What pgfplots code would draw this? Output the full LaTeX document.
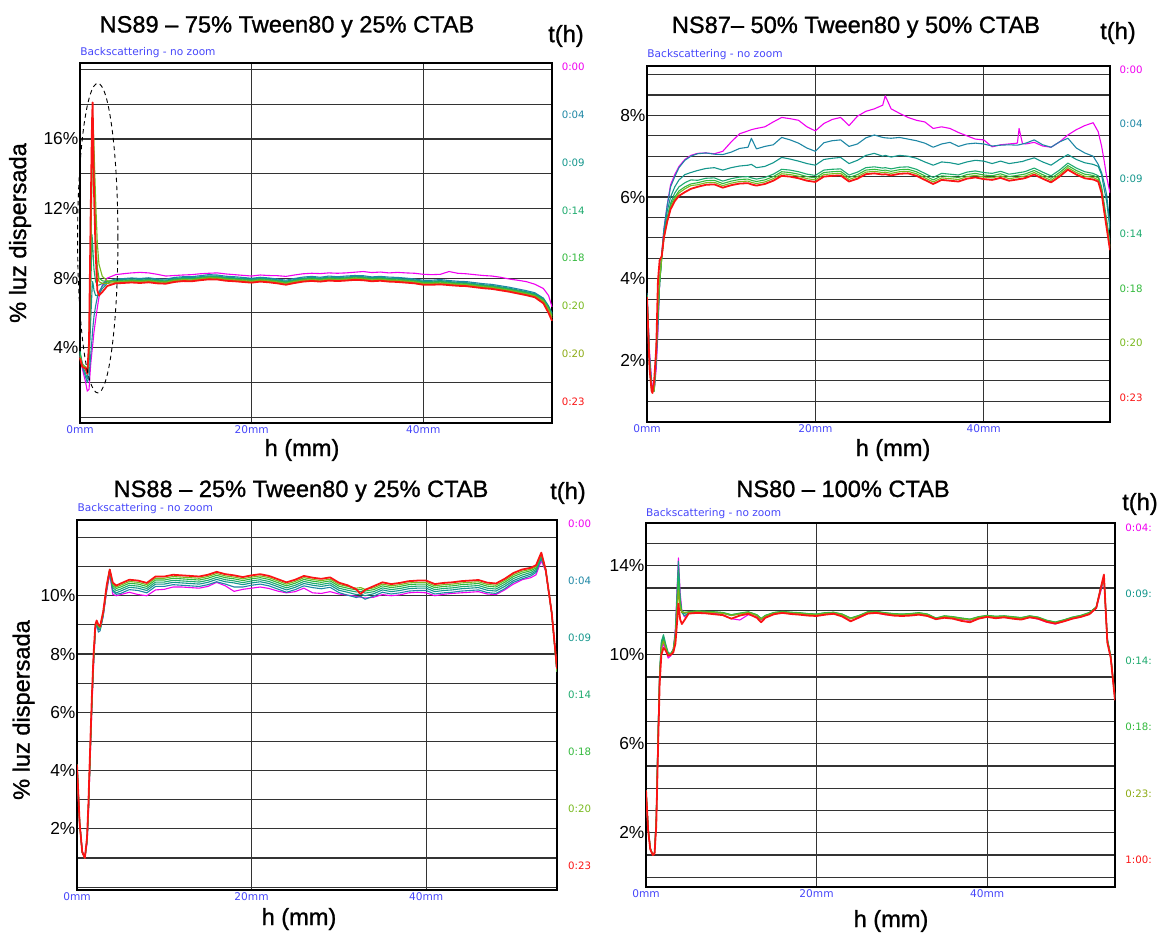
\documentclass[border=0pt]{standalone}
\usepackage{pgfplots}
\usepackage{pgfplotstable}
\pgfplotsset{compat=1.18}
\usepackage{fontspec}
\setmainfont{Liberation Sans}
\newfontfamily\heavy{Liberation Sans}[FakeBold=1.1]
\newfontfamily\dejavu{DejaVu Sans}
\definecolor{cM}{RGB}{240,0,240}
\definecolor{cA}{RGB}{30,135,165}
\definecolor{cB}{RGB}{20,150,140}
\definecolor{cC}{RGB}{30,170,110}
\definecolor{cD}{RGB}{50,185,60}
\definecolor{cE}{RGB}{120,185,30}
\definecolor{cF}{RGB}{140,170,20}
\definecolor{cR}{RGB}{250,20,20}
\definecolor{cBlue}{RGB}{70,70,250}
\newcommand\tf{\heavy\fontsize{11.8}{13}\selectfont}
\newcommand\sbf{\dejavu\fontsize{5.3}{6}\selectfont}
\newcommand\rlf{\dejavu\fontsize{5.1}{6}\selectfont}

\pgfplotstableread{
x m a b c d e f r
0 3.5 3.6 3.7 3.8 3.6 3.5 3.4 3.4
0.27 2.8 2.9 3.0 3.1 3.0 3.0 2.9 2.9
0.66 2.0 2.3 2.5 2.8 2.9 2.9 2.8 2.8
0.85 1.5 2.0 2.2 2.5 2.6 2.6 2.6 2.5
1.05 1.6 2.3 3.0 3.5 3.8 3.8 4.0 4.3
1.24 3.0 3.5 5.5 7.0 9.0 9.0 10.0 11.5
1.4 3.8 4.5 7.3 10.5 14.0 14.5 16.0 17.0
1.47 4.1 5.0 7.8 10.0 15.8 16.3 17.5 18.1
1.55 4.5 5.4 7.6 9.2 16.4 16.8 16.5 15.5
1.63 4.9 5.8 7.3 8.5 14.5 15.5 14.0 13.0
1.82 5.6 6.4 7.0 7.8 10.5 12.5 10.0 9.5
2.02 6.3 6.9 7.0 7.6 8.6 10.0 8.3 7.3
2.21 6.9 7.2 7.1 7.6 8.0 8.8 7.8 7.0
2.6 7.6 7.55 7.4 7.7 7.85 8.1 7.7 7.2
3.18 8.0 7.8 7.7 7.8 7.8 7.85 7.7 7.55
4.15 8.2 7.95 7.9 7.86 7.82 7.78 7.74 7.7
5 8.25 7.97 7.93 7.88 7.84 7.80 7.76 7.72
6 8.30 8.01 7.95 7.91 7.87 7.83 7.79 7.75
7 8.33 7.98 7.93 7.88 7.85 7.80 7.76 7.72
8 8.30 8.02 7.96 7.92 7.88 7.84 7.80 7.76
9 8.22 7.95 7.91 7.86 7.82 7.78 7.74 7.70
10 8.12 7.94 7.88 7.84 7.80 7.76 7.72 7.68
11 8.15 8.04 7.98 7.94 7.90 7.86 7.82 7.78
12 8.18 8.08 8.03 7.99 7.95 7.91 7.87 7.83
13 8.20 8.08 8.02 7.98 7.94 7.90 7.86 7.82
14 8.25 8.14 8.08 8.04 8.00 7.96 7.92 7.88
15 8.28 8.20 8.13 8.09 8.05 8.01 7.97 7.93
16 8.30 8.18 8.12 8.08 8.04 8.00 7.96 7.92
17 8.24 8.11 8.05 8.01 7.97 7.93 7.89 7.85
18 8.20 8.08 8.02 7.98 7.94 7.90 7.86 7.82
19 8.16 8.04 7.98 7.94 7.90 7.86 7.82 7.78
20 8.12 7.99 7.94 7.90 7.86 7.82 7.78 7.74
21 8.18 8.05 8.00 7.96 7.92 7.88 7.84 7.80
22 8.15 8.01 7.96 7.92 7.88 7.84 7.80 7.76
23 8.14 7.95 7.90 7.86 7.82 7.78 7.74 7.70
24 8.10 7.88 7.82 7.78 7.74 7.70 7.66 7.62
25 8.18 7.98 7.92 7.88 7.84 7.80 7.76 7.72
26 8.25 8.06 8.00 7.96 7.92 7.88 7.84 7.80
27 8.28 8.10 8.04 8.00 7.96 7.92 7.88 7.84
28 8.26 8.05 8.00 7.96 7.92 7.88 7.84 7.80
29 8.30 8.12 8.06 8.02 7.98 7.94 7.90 7.86
30 8.28 8.08 8.03 7.99 7.95 7.91 7.87 7.83
31 8.30 8.12 8.06 8.02 7.98 7.94 7.90 7.86
32 8.34 8.15 8.10 8.06 8.02 7.98 7.94 7.90
33 8.38 8.14 8.08 8.04 8.00 7.96 7.92 7.88
34 8.32 8.07 8.02 7.98 7.94 7.90 7.86 7.82
35 8.35 8.10 8.05 8.01 7.97 7.93 7.89 7.85
36 8.30 8.06 8.00 7.96 7.92 7.88 7.84 7.80
37 8.33 8.04 7.98 7.94 7.90 7.86 7.82 7.78
38 8.30 8.00 7.94 7.90 7.86 7.82 7.78 7.74
39 8.28 7.95 7.90 7.86 7.82 7.78 7.74 7.70
40 8.22 7.88 7.82 7.78 7.74 7.70 7.66 7.62
41 8.20 7.88 7.82 7.78 7.74 7.70 7.66 7.62
42 8.22 7.92 7.86 7.81 7.77 7.72 7.68 7.64
43 8.38 7.86 7.80 7.76 7.72 7.68 7.64 7.60
44 8.28 7.82 7.76 7.72 7.68 7.64 7.60 7.56
45 8.25 7.80 7.74 7.70 7.66 7.62 7.58 7.54
46 8.20 7.74 7.68 7.64 7.60 7.56 7.52 7.48
47 8.15 7.68 7.62 7.58 7.54 7.50 7.46 7.42
48 8.12 7.64 7.58 7.54 7.50 7.46 7.42 7.38
49 8.05 7.56 7.50 7.46 7.42 7.38 7.34 7.30
50 7.95 7.48 7.42 7.38 7.34 7.30 7.26 7.22
51 7.88 7.38 7.32 7.28 7.24 7.20 7.16 7.12
52 7.80 7.28 7.22 7.18 7.14 7.10 7.06 7.02
53 7.65 7.16 7.10 7.06 7.02 6.98 6.94 6.90
54 7.40 6.85 6.82 6.77 6.72 6.68 6.62 6.55
54.6 7.00 6.40 6.35 6.30 6.25 6.20 6.15 6.00
55 6.35 6.00 5.95 5.90 5.85 5.80 5.70 5.55
}\tA

\pgfplotstableread{
x m a b c d e r
0 3.6 3.65 3.6 3.6 3.6 3.55 3.55
0.3 2.2 2.1 2.0 2.0 1.9 1.9 1.8
0.55 1.5 1.4 1.35 1.3 1.3 1.25 1.25
0.65 1.35 1.3 1.28 1.25 1.25 1.22 1.2
0.85 1.25 1.25 1.25 1.25 1.25 1.25 1.5
1.1 1.8 2.0 2.1 2.2 2.3 2.3 2.3
1.3 2.7 2.9 3.0 3.1 3.2 3.3 3.95
1.5 3.9 3.9 3.9 3.9 3.9 4.0 4.45
1.75 4.6 4.6 4.55 4.5 4.5 4.5 4.55
2.0 5.2 5.2 5.1 5.0 5.0 5.0 5.0
2.4 5.8 5.8 5.65 5.5 5.45 5.4 5.4
2.8 6.3 6.25 6.0 5.85 5.8 5.75 5.7
3.3 6.55 6.5 6.25 6.1 6.0 5.95 5.9
3.8 6.75 6.72 6.42 6.25 6.15 6.1 6.03
4.5 6.92 6.9 6.55 6.35 6.25 6.2 6.12
5.2 7.02 7.0 6.6 6.42 6.32 6.28 6.2
6 7.07 7.06 6.65 6.41 6.35 6.30 6.25
7 7.08 7.08 6.70 6.46 6.40 6.35 6.30
8 7.06 7.05 6.72 6.47 6.41 6.36 6.31
9 7.12 7.04 6.66 6.39 6.33 6.28 6.23
10 7.35 7.10 6.72 6.45 6.39 6.34 6.29
11 7.55 7.19 6.76 6.49 6.43 6.38 6.33
12 7.62 7.22 6.78 6.50 6.44 6.39 6.34
12.4 7.65 7.44 6.80 6.47 6.41 6.36 6.31
13 7.68 7.18 6.72 6.44 6.38 6.33 6.28
14 7.72 7.24 6.75 6.48 6.42 6.37 6.32
15 7.84 7.28 6.84 6.56 6.50 6.45 6.40
16 7.95 7.46 6.97 6.68 6.62 6.57 6.52
17 7.92 7.40 6.93 6.66 6.60 6.55 6.50
18 7.88 7.32 6.88 6.62 6.56 6.51 6.46
19 7.72 7.20 6.82 6.56 6.50 6.45 6.40
20 7.62 7.12 6.78 6.53 6.47 6.42 6.37
21 7.80 7.33 6.92 6.66 6.60 6.55 6.50
22 7.90 7.38 6.95 6.68 6.62 6.57 6.52
23 7.95 7.40 6.97 6.69 6.63 6.58 6.53
24 7.75 7.24 6.82 6.54 6.48 6.43 6.38
25 7.98 7.30 6.90 6.61 6.55 6.50 6.45
26 8.10 7.45 7.02 6.72 6.66 6.61 6.56
27 8.16 7.52 7.07 6.74 6.68 6.63 6.58
28 8.25 7.46 7.00 6.71 6.65 6.60 6.55
28.3 8.48 7.45 7.02 6.72 6.66 6.61 6.56
29 8.16 7.44 6.98 6.69 6.63 6.58 6.53
30 8.05 7.46 7.02 6.73 6.67 6.62 6.57
31 7.95 7.42 7.00 6.74 6.68 6.63 6.58
32 7.88 7.38 6.95 6.68 6.62 6.57 6.52
33 7.84 7.32 6.86 6.58 6.52 6.47 6.42
34 7.68 7.22 6.78 6.48 6.42 6.37 6.32
35 7.72 7.30 6.86 6.58 6.52 6.47 6.42
36 7.68 7.34 6.84 6.56 6.50 6.45 6.40
37 7.58 7.24 6.80 6.54 6.48 6.43 6.38
38 7.50 7.30 6.86 6.61 6.55 6.50 6.45
39 7.42 7.32 6.90 6.64 6.58 6.53 6.48
40 7.40 7.30 6.88 6.60 6.54 6.49 6.44
41 7.23 7.25 6.82 6.58 6.52 6.47 6.42
42 7.28 7.27 6.88 6.63 6.57 6.52 6.47
43 7.30 7.28 6.82 6.56 6.50 6.45 6.40
44 7.32 7.27 6.85 6.59 6.53 6.48 6.43
44.2 7.68 7.28 6.86 6.60 6.54 6.49 6.44
44.6 7.31 7.30 6.87 6.61 6.55 6.50 6.45
45 7.30 7.32 6.90 6.63 6.57 6.52 6.47
46 7.34 7.40 6.96 6.71 6.65 6.60 6.55
47 7.25 7.28 6.86 6.61 6.55 6.50 6.45
48 7.22 7.22 6.78 6.52 6.46 6.41 6.36
49 7.35 7.35 6.92 6.66 6.60 6.55 6.50
50 7.52 7.44 7.04 6.83 6.77 6.72 6.67
51 7.65 7.20 6.92 6.71 6.65 6.60 6.55
52 7.75 7.08 6.84 6.62 6.56 6.51 6.46
53 7.82 7.00 6.80 6.58 6.53 6.48 6.43
53.6 7.60 6.80 6.75 6.52 6.47 6.42 6.38
54 7.25 6.60 6.55 6.25 6.20 6.15 6.10
54.3 6.90 6.35 6.20 5.85 5.78 5.72 5.66
54.6 6.50 6.06 5.90 5.45 5.35 5.30 5.25
55 6.10 5.30 5.20 4.90 4.80 4.75 4.70
}\tB

\pgfplotstableread{
x m a b c d e r
0 4.0 4.2 4.2 4.2 4.2 4.2 4.2
0.3 2.2 2.2 2.2 2.2 2.2 2.2 2.2
0.6 1.25 1.2 1.2 1.2 1.2 1.2 1.2
0.9 1.0 1.0 1.0 1.0 1.0 1.0 1.0
1.15 1.5 1.6 1.6 1.6 1.6 1.6 1.7
1.3 2.4 2.6 2.6 2.6 2.6 2.6 2.8
1.5 4.3 4.5 4.5 4.5 4.5 4.5 4.7
1.7 6.1 6.3 6.3 6.3 6.3 6.3 6.5
1.9 7.6 7.8 7.8 7.8 7.8 7.8 8.0
2.1 8.8 8.9 8.9 8.9 8.9 8.9 9.0
2.25 9.0 9.05 9.1 9.1 9.1 9.1 9.15
2.45 8.85 8.75 8.85 8.9 8.95 8.95 9.0
2.65 8.85 8.8 8.85 8.9 8.9 8.9 8.95
3.0 9.3 9.3 9.35 9.4 9.4 9.4 9.45
3.4 10.15 10.2 10.25 10.3 10.3 10.3 10.35
3.75 10.75 10.8 10.85 10.9 10.9 10.9 10.9
4.1 10.05 10.15 10.2 10.28 10.35 10.4 10.45
4.5 10.0 10.05 10.1 10.18 10.25 10.3 10.35
5 10.04 10.08 10.16 10.23 10.30 10.36 10.42
6 10.12 10.21 10.29 10.36 10.43 10.49 10.55
7 10.04 10.18 10.26 10.33 10.40 10.46 10.52
8 10.00 10.10 10.18 10.25 10.32 10.38 10.44
9 10.20 10.32 10.40 10.47 10.54 10.60 10.66
10 10.22 10.32 10.40 10.47 10.54 10.60 10.66
11 10.30 10.38 10.46 10.53 10.60 10.66 10.72
12 10.30 10.36 10.44 10.51 10.58 10.64 10.70
13 10.28 10.34 10.42 10.49 10.56 10.62 10.68
14 10.26 10.32 10.40 10.47 10.54 10.60 10.66
15 10.32 10.38 10.46 10.53 10.60 10.66 10.72
16 10.46 10.48 10.56 10.63 10.70 10.76 10.82
17 10.34 10.40 10.48 10.55 10.62 10.68 10.74
18 10.15 10.30 10.44 10.51 10.58 10.64 10.70
19 10.22 10.30 10.38 10.45 10.52 10.58 10.64
20 10.26 10.36 10.44 10.51 10.58 10.64 10.70
21 10.30 10.40 10.48 10.55 10.62 10.68 10.74
22 10.25 10.34 10.42 10.49 10.56 10.62 10.68
23 10.16 10.23 10.31 10.38 10.45 10.51 10.57
24 10.10 10.12 10.20 10.27 10.34 10.40 10.46
25 10.14 10.21 10.29 10.36 10.43 10.49 10.55
26 10.26 10.34 10.42 10.49 10.56 10.62 10.68
27 10.10 10.28 10.36 10.43 10.50 10.56 10.62
28 10.08 10.24 10.32 10.39 10.46 10.52 10.58
29 10.14 10.29 10.37 10.44 10.51 10.57 10.63
30 10.06 10.11 10.19 10.26 10.33 10.39 10.45
31 10.02 10.02 10.12 10.19 10.26 10.32 10.36
32 9.98 9.94 10.04 10.13 10.20 10.26 10.22
32.5 9.95 9.98 10.06 10.15 10.22 10.28 10.06
33 9.92 9.88 10.00 10.09 10.16 10.22 10.20
34 9.95 9.99 10.07 10.14 10.21 10.27 10.33
35 10.04 10.12 10.20 10.27 10.34 10.40 10.46
36 10.00 10.06 10.14 10.21 10.28 10.34 10.40
37 10.03 10.10 10.18 10.25 10.32 10.38 10.44
38 10.10 10.16 10.24 10.31 10.38 10.44 10.50
39 10.12 10.18 10.26 10.33 10.40 10.46 10.52
40 10.10 10.18 10.26 10.33 10.40 10.46 10.52
41 10.00 10.06 10.14 10.21 10.28 10.34 10.40
42 10.05 10.10 10.18 10.25 10.32 10.38 10.44
43 10.08 10.12 10.20 10.27 10.34 10.40 10.46
44 10.10 10.16 10.24 10.31 10.38 10.44 10.50
45 10.12 10.18 10.26 10.33 10.40 10.46 10.52
46 10.14 10.20 10.28 10.35 10.42 10.48 10.54
47 10.06 10.11 10.19 10.26 10.33 10.39 10.45
48 10.04 10.08 10.16 10.23 10.30 10.36 10.42
49 10.20 10.24 10.32 10.39 10.46 10.52 10.58
50 10.40 10.46 10.52 10.59 10.66 10.72 10.78
51 10.55 10.58 10.64 10.71 10.78 10.84 10.90
52 10.62 10.68 10.74 10.80 10.86 10.91 10.96
52.6 10.72 10.80 10.85 10.90 10.95 11.00 11.05
53.2 11.20 11.28 11.33 11.38 11.42 11.45 11.48
53.7 10.85 10.88 10.88 10.90 10.90 10.90 10.90
54.4 9.40 9.40 9.40 9.40 9.40 9.40 9.40
55 7.40 7.40 7.40 7.40 7.40 7.40 7.50
}\tC

\pgfplotstableread{
x m a b c d r
0 3.8 3.9 3.9 3.9 3.9 3.9
0.25 2.2 2.2 2.2 2.2 2.2 2.1
0.5 1.3 1.3 1.3 1.3 1.3 1.25
0.8 1.0 1.0 1.0 1.0 1.0 1.0
1.0 1.1 1.1 1.1 1.1 1.1 1.05
1.2 2.5 2.6 2.6 2.6 2.5 2.3
1.4 6.0 6.2 6.2 6.1 6.0 5.6
1.6 9.0 9.2 9.2 9.1 9.0 8.7
1.8 10.2 10.5 10.6 10.4 10.3 10.0
2.05 10.5 10.8 10.9 10.7 10.6 10.3
2.3 10.2 10.4 10.5 10.4 10.3 10.2
2.6 9.85 10.0 10.1 10.05 10.0 9.95
2.9 9.95 10.0 10.05 10.05 10.0 10.0
3.2 10.2 10.25 10.25 10.2 10.2 10.1
3.45 11.2 11.0 11.0 10.9 10.8 10.5
3.65 13.0 12.8 12.6 12.3 12.0 11.5
3.8 14.35 14.2 13.8 13.3 12.9 12.3
4.0 12.8 12.6 12.4 12.3 12.1 11.6
4.2 12.0 11.9 11.9 11.95 11.9 11.38
4.5 11.7 11.75 11.85 11.9 11.9 11.55
5.0 11.88 11.88 11.92 11.93 11.9 11.85
6 11.90 11.94 11.96 11.97 11.93 11.88
7 11.92 11.92 11.94 11.95 11.91 11.86
8 11.86 11.90 11.92 11.93 11.89 11.82
9 11.80 11.87 11.89 11.90 11.86 11.78
10 11.62 11.77 11.79 11.80 11.76 11.62
11 11.56 11.84 11.86 11.87 11.83 11.76
12 11.80 11.90 11.92 11.93 11.89 11.84
13 11.70 11.77 11.79 11.80 11.76 11.66
13.5 11.56 11.60 11.62 11.63 11.59 11.46
14 11.68 11.74 11.76 11.77 11.73 11.66
15 11.84 11.87 11.89 11.90 11.86 11.82
16 11.88 11.92 11.94 11.95 11.91 11.88
17 11.86 11.88 11.90 11.91 11.87 11.83
18 11.82 11.86 11.88 11.89 11.85 11.80
19 11.80 11.82 11.84 11.85 11.81 11.76
20 11.76 11.80 11.82 11.83 11.79 11.74
21 11.84 11.86 11.88 11.89 11.85 11.80
22 11.86 11.88 11.90 11.91 11.87 11.84
23 11.76 11.80 11.82 11.83 11.79 11.72
24 11.52 11.62 11.64 11.65 11.61 11.50
25 11.66 11.74 11.76 11.77 11.73 11.68
26 11.86 11.90 11.92 11.93 11.89 11.85
27 11.90 11.92 11.94 11.95 11.91 11.88
28 11.80 11.86 11.88 11.89 11.85 11.82
29 11.78 11.82 11.84 11.85 11.81 11.76
30 11.76 11.80 11.82 11.83 11.79 11.74
31 11.80 11.82 11.84 11.85 11.81 11.76
32 11.84 11.86 11.88 11.89 11.85 11.80
33 11.76 11.80 11.82 11.83 11.79 11.74
34 11.62 11.58 11.64 11.65 11.61 11.60
35 11.68 11.72 11.74 11.75 11.71 11.66
36 11.64 11.68 11.70 11.71 11.67 11.62
37 11.58 11.62 11.64 11.65 11.61 11.52
38 11.55 11.57 11.59 11.60 11.56 11.46
39 11.64 11.68 11.70 11.71 11.67 11.62
40 11.72 11.74 11.76 11.77 11.73 11.70
41 11.66 11.70 11.72 11.73 11.69 11.64
42 11.68 11.72 11.74 11.75 11.71 11.68
43 11.64 11.68 11.70 11.71 11.67 11.62
44 11.60 11.64 11.66 11.67 11.63 11.58
45 11.68 11.72 11.74 11.75 11.71 11.68
46 11.60 11.66 11.68 11.69 11.65 11.62
47 11.46 11.52 11.54 11.55 11.51 11.48
48 11.38 11.44 11.46 11.47 11.43 11.40
49 11.50 11.54 11.56 11.57 11.53 11.50
50 11.62 11.66 11.68 11.69 11.65 11.62
51 11.70 11.74 11.76 11.77 11.73 11.70
52 11.84 11.87 11.89 11.90 11.86 11.82
52.8 12.08 12.12 12.14 12.15 12.11 12.10
53.3 12.8 12.9 12.95 12.95 12.9 12.95
53.7 13.4 13.5 13.55 13.5 13.45 13.6
54.1 10.7 10.65 10.7 10.7 10.6 10.55
54.5 9.9 9.9 9.95 9.95 9.9 9.85
55 8.0 8.05 8.1 8.05 8.0 7.95
}\tD

\pgfplotsset{panel/.style={
  scale only axis, anchor=south west, xmin=0, xmax=55,
  xtick={0,20,40}, xticklabels={0mm,20mm,40mm},
  grid=major, major grid style={black!80, line width=0.55pt},
  major tick length=0pt, axis line style={line width=0.9pt},
  /pgf/number format/assume math mode=true,
  xticklabel style={font=\sbf, text=cBlue, inner sep=0pt, yshift=-1.2pt},
  yticklabel style={font=\fontsize{8.7}{10}\selectfont, inner sep=0pt, xshift=-0.6pt},
  every axis plot/.append style={line width=0.55pt, line join=round},
}}

\begin{document}
\begin{tikzpicture}
\path[use as bounding box] (0,0) rectangle (583.5pt,-467.5pt);

% Panel 1
\begin{axis}[panel, at={(40pt,-211.5pt)}, width=236pt, height=180pt,
  ymin=-0.33, ymax=20.37, clip=false,
  ytick={0,2,4,6,8,10,12,14,16,18,20},
  yticklabels={,,4\%,,8\%,,12\%,,16\%,,}]
\addplot[cM] table[x=x,y=m]{\tA};
\addplot[cA] table[x=x,y=a]{\tA};
\addplot[cB] table[x=x,y=b]{\tA};
\addplot[cC] table[x=x,y=c]{\tA};
\addplot[cD] table[x=x,y=d]{\tA};
\addplot[cE] table[x=x,y=e]{\tA};
\addplot[cF] table[x=x,y=f]{\tA};
\addplot[cR, line width=0.9pt] table[x=x,y=r]{\tA};
\draw[black, line width=0.45pt, dash pattern=on 2.2pt off 1.8pt] (axis cs:2.07,10.3) ellipse [x radius=2.35, y radius=8.9];
\end{axis}

% Panel 2
\begin{axis}[panel, at={(323.5pt,-211pt)}, width=231.5pt, height=178pt,
  ymin=0.49, ymax=9.21,
  ytick={1,1.5,2,2.5,3,3.5,4,4.5,5,5.5,6,6.5,7,7.5,8,8.5,9},
  yticklabels={,,2\%,,,,4\%,,,,6\%,,,,8\%,,}]
\addplot[cM] table[x=x,y=m]{\tB};
\addplot[cA] table[x=x,y=a]{\tB};
\addplot[cB] table[x=x,y=b]{\tB};
\addplot[cC] table[x=x,y=c]{\tB};
\addplot[cD] table[x=x,y=d]{\tB};
\addplot[cE] table[x=x,y=e]{\tB};
\addplot[cR, line width=0.9pt] table[x=x,y=r]{\tB};
\end{axis}

% Panel 3
\begin{axis}[panel, at={(38.5pt,-445pt)}, width=240pt, height=185pt,
  ymin=-0.1, ymax=12.6,
  ytick={0,1,2,3,4,5,6,7,8,9,10,11,12},
  yticklabels={,,2\%,,4\%,,6\%,,8\%,,10\%,,}]
\addplot[cM] table[x=x,y=m]{\tC};
\addplot[cA] table[x=x,y=a]{\tC};
\addplot[cB] table[x=x,y=b]{\tC};
\addplot[cC] table[x=x,y=c]{\tC};
\addplot[cD] table[x=x,y=d]{\tC};
\addplot[cE] table[x=x,y=e]{\tC};
\addplot[cR, line width=0.9pt] table[x=x,y=r]{\tC};
\end{axis}

% Panel 4
\begin{axis}[panel, at={(323pt,-443.5pt)}, width=234.5pt, height=182pt,
  ymin=-0.44, ymax=15.92,
  ytick={0,1,2,3,4,5,6,7,8,9,10,11,12,13,14,15},
  yticklabels={,,2\%,,,,6\%,,,,10\%,,,,14\%,}]
\addplot[cM] table[x=x,y=m]{\tD};
\addplot[cB] table[x=x,y=a]{\tD};
\addplot[cC] table[x=x,y=b]{\tD};
\addplot[cD] table[x=x,y=c]{\tD};
\addplot[cF] table[x=x,y=d]{\tD};
\addplot[cR, line width=0.9pt] table[x=x,y=r]{\tD};
\end{axis}

\begin{scope}[x=0.5pt,y=-0.5pt]
% titles
\node[anchor=base, font=\tf] at (287,32.5) {NS89 – 75\% Tween80 y 25\% CTAB};
\node[anchor=base, font=\tf] at (856,33) {NS87– 50\% Tween80 y 50\% CTAB};
\node[anchor=base, font=\tf] at (301,497) {NS88 – 25\% Tween80 y 25\% CTAB};
\node[anchor=base, font=\tf] at (843,497) {NS80 – 100\% CTAB};
% t(h)
\node[font=\tf] at (566,36) {t(h)};
\node[font=\tf] at (1118,33) {t(h)};
\node[font=\tf] at (568,493) {t(h)};
\node[font=\tf] at (1140,504) {t(h)};
% backscattering
\node[anchor=west, inner sep=0pt, font=\sbf, text=cBlue] at (80,52.3) {Backscattering - no zoom};
\node[anchor=west, inner sep=0pt, font=\sbf, text=cBlue] at (647,55) {Backscattering - no zoom};
\node[anchor=west, inner sep=0pt, font=\sbf, text=cBlue] at (77.3,509) {Backscattering - no zoom};
\node[anchor=west, inner sep=0pt, font=\sbf, text=cBlue] at (645.7,513.3) {Backscattering - no zoom};
% axis labels
\node[font=\tf] at (302,450) {h (mm)};
\node[font=\tf] at (893,450) {h (mm)};
\node[font=\tf] at (299,919) {h (mm)};
\node[font=\tf] at (891,921) {h (mm)};
\node[font=\tf, rotate=90] at (20,233) {\% luz dispersada};
\node[font=\tf, rotate=90] at (23.5,710) {\% luz dispersada};
% right labels panel 1
\begin{scope}[every node/.style={anchor=west, inner sep=0pt, font=\rlf}]
\node[text=cM] at (561.4,66.7) {0:00};
\node[text=cA] at (561.4,115) {0:04};
\node[text=cB] at (561.4,163) {0:09};
\node[text=cC] at (561.4,211) {0:14};
\node[text=cD] at (561.4,258) {0:18};
\node[text=cE] at (561.4,306) {0:20};
\node[text=cF] at (561.4,354) {0:20};
\node[text=cR] at (561.4,402) {0:23};
% panel 2
\node[text=cM] at (1119.3,70) {0:00};
\node[text=cA] at (1119.3,124) {0:04};
\node[text=cB] at (1119.3,179) {0:09};
\node[text=cC] at (1119.3,234) {0:14};
\node[text=cD] at (1119.3,289) {0:18};
\node[text=cE] at (1119.3,343) {0:20};
\node[text=cR] at (1119.3,398) {0:23};
% panel 3
\node[text=cM] at (567.7,524) {0:00};
\node[text=cA] at (567.7,581) {0:04};
\node[text=cB] at (567.7,638) {0:09};
\node[text=cC] at (567.7,695) {0:14};
\node[text=cD] at (567.7,752) {0:18};
\node[text=cE] at (567.7,809) {0:20};
\node[text=cR] at (567.7,866) {0:23};
% panel 4
\node[text=cM] at (1125,528) {0:04:};
\node[text=cB] at (1125,594) {0:09:};
\node[text=cC] at (1125,661) {0:14:};
\node[text=cD] at (1125,727) {0:18:};
\node[text=cF] at (1125,794) {0:23:};
\node[text=cR] at (1125,860) {1:00:};
\end{scope}
\end{scope}
\end{tikzpicture}
\end{document}
